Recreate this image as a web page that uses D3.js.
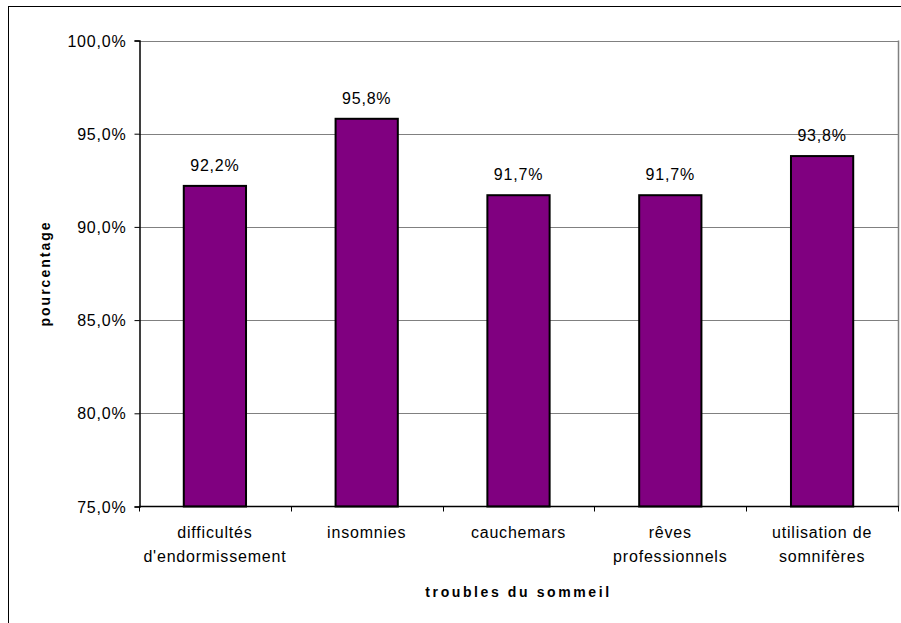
<!DOCTYPE html>
<html>
<head>
<meta charset="utf-8">
<script src="https://cdn.jsdelivr.net/npm/d3@7"></script>
<style>
  html, body { margin: 0; padding: 0; background: #fff; }
  svg { display: block; }
  text { font-family: "Liberation Sans", Arial, sans-serif; fill: #000; }
</style>
</head>
<body>
<svg id="chart" width="901" height="623"></svg>
<script>
const categories = [
  ["difficultés", "d'endormissement"],
  ["insomnies"],
  ["cauchemars"],
  ["rêves", "professionnels"],
  ["utilisation de", "somnifères"]
];
const values = [92.2, 95.8, 91.7, 91.7, 93.8];
const yTicks = [75, 80, 85, 90, 95, 100];
const xTitle = "troubles du sommeil";
const yTitle = "pourcentage";

const svg = d3.select("#chart");
const pLeft = 139, pRight = 898, pTop = 40.5, pBottom = 506.5;

// outer frame
svg.append("rect")
  .attr("x", 8.5).attr("y", 6.5)
  .attr("width", 1000).attr("height", 1000)
  .attr("fill", "none").attr("stroke", "#000").attr("stroke-width", 1);

const keys = categories.map((c, i) => i);
const x = d3.scaleBand().domain(keys).range([pLeft, pRight])
  .paddingInner(0.59).paddingOuter(0.295);
const xCat = d3.scaleBand().domain(keys).range([pLeft, pRight]).padding(0);
const y = d3.scaleLinear().domain([75, 100]).range([pBottom, pTop]);

const fmt = v => d3.format(".1f")(v).replace(".", ",") + "%";

// gridlines
svg.append("g").selectAll("line").data(yTicks.slice(1)).join("line")
  .attr("x1", pLeft).attr("x2", pRight)
  .attr("y1", d => Math.round(y(d)) + 0.5).attr("y2", d => Math.round(y(d)) + 0.5)
  .attr("stroke", "#808080").attr("stroke-width", 1);

// right border of plot
svg.append("line")
  .attr("x1", pRight + 0.5).attr("x2", pRight + 0.5)
  .attr("y1", pTop).attr("y2", pBottom)
  .attr("stroke", "#808080").attr("stroke-width", 1.5);

// bars
svg.append("g").selectAll("rect").data(values).join("rect")
  .attr("x", (d, i) => x(i))
  .attr("y", d => y(d))
  .attr("width", x.bandwidth())
  .attr("height", d => pBottom - y(d))
  .attr("fill", "#800080")
  .attr("stroke", "#000").attr("stroke-width", 2);

// value labels
svg.append("g").selectAll("text").data(values).join("text")
  .attr("x", (d, i) => x(i) + x.bandwidth() / 2)
  .attr("y", d => y(d) - 15)
  .attr("text-anchor", "middle")
  .style("font-size", "16px").style("letter-spacing", "0.8px")
  .text(d => fmt(d));

// y axis
const yAxis = d3.axisLeft(y).tickValues(yTicks).tickSize(5).tickPadding(8).tickFormat(fmt);
const gy = svg.append("g").attr("transform", `translate(${pLeft + 0.5},0)`).call(yAxis);
gy.select(".domain").attr("stroke", "#000").attr("stroke-width", 1.5);
gy.selectAll(".tick line").attr("stroke", "#000");
gy.selectAll(".tick text").style("font-size", "16px").style("letter-spacing", "0.8px")
  .style("font-family", "'Liberation Sans', Arial, sans-serif").attr("dy", "0.35em");

// x axis
const gx = svg.append("g").attr("transform", `translate(0,${pBottom})`);
gx.append("line").attr("x1", pLeft).attr("x2", pRight + 1).attr("y1", 0).attr("y2", 0)
  .attr("stroke", "#000").attr("stroke-width", 1.5);
const bounds = keys.map(k => xCat(k)).concat([pRight]);
gx.selectAll("line.tk").data(bounds).join("line").attr("class", "tk")
  .attr("x1", d => Math.round(d) + 0.5).attr("x2", d => Math.round(d) + 0.5)
  .attr("y1", 0).attr("y2", 5).attr("stroke", "#000");

const lbl = svg.append("g").selectAll("text").data(categories).join("text")
  .attr("text-anchor", "middle")
  .style("font-size", "16px").style("letter-spacing", "0.8px");
lbl.each(function(lines, i) {
  const t = d3.select(this);
  lines.forEach((s, j) => {
    t.append("tspan")
      .attr("x", xCat(i) + xCat.bandwidth() / 2)
      .attr("y", 538 + j * 24)
      .text(s);
  });
});

// axis titles
svg.append("text")
  .attr("x", (pLeft + pRight) / 2).attr("y", 597)
  .attr("text-anchor", "middle")
  .style("font-size", "14px").style("font-weight", "bold").style("letter-spacing", "2.6px")
  .text(xTitle);

svg.append("text")
  .attr("transform", `translate(50,${(pTop + pBottom) / 2}) rotate(-90)`)
  .attr("text-anchor", "middle")
  .style("font-size", "14px").style("font-weight", "bold").style("letter-spacing", "2px")
  .text(yTitle);
</script>
</body>
</html>
